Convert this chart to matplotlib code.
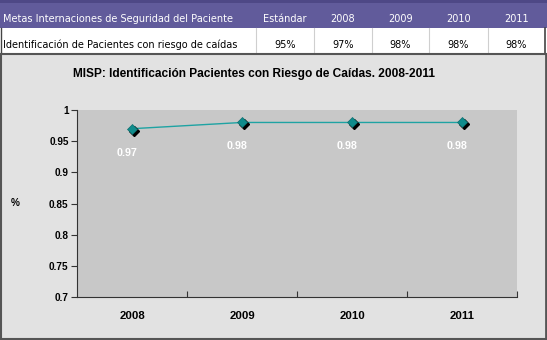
import matplotlib
matplotlib.use("Agg")
import matplotlib.pyplot as plt
from matplotlib.patches import Rectangle
from matplotlib.lines import Line2D
import matplotlib.transforms as mtransforms

# ---- data ----
table_header = ["Metas Internaciones de Seguridad del Paciente", "Estándar", "2008", "2009", "2010", "2011"]
row_label = "Identificación de Pacientes con riesgo de caídas"
row_values = ["95%", "97%", "98%", "98%", "98%"]

years = ["2008", "2009", "2010", "2011"]
values = [0.97, 0.98, 0.98, 0.98]
yticks = [0.7, 0.75, 0.8, 0.85, 0.9, 0.95, 1.0]
ytick_labels = ["0.7", "0.75", "0.8", "0.85", "0.9", "0.95", "1"]
title = "MISP: Identificación Pacientes con Riesgo de Caídas. 2008-2011"

W, H = 547, 340
fig = plt.figure(figsize=(W / 100, H / 100), dpi=100)
fig.patch.set_facecolor("white")

def fx(x):
    return x / W

def fy(y):
    return 1 - y / H

def rect(x0, y0, x1, y1, **kw):
    fig.patches.append(Rectangle((fx(x0), fy(y1)), fx(x1) - fx(x0), fy(y0) - fy(y1),
                                 transform=fig.transFigure, figure=fig, zorder=-2, **kw))

def hline(x0, x1, y, **kw):
    fig.lines.append(Line2D([fx(x0), fx(x1)], [fy(y), fy(y)], transform=fig.transFigure,
                            figure=fig, zorder=-1, **kw))

def vline(x, y0, y1, **kw):
    fig.lines.append(Line2D([fx(x), fx(x)], [fy(y0), fy(y1)], transform=fig.transFigure,
                            figure=fig, zorder=-1, **kw))

# ---- table ----
purple = "#615b9b"
rect(0, 0, 547, 28, facecolor=purple, edgecolor="none")
rect(0, 0, 547, 3, facecolor="#4e4886", edgecolor="none")
rect(0, 28, 547, 53, facecolor="white", edgecolor="none")
col_edges = [0, 256, 314, 372, 429, 488, 545]
for x in col_edges[1:-1]:
    vline(x, 28, 53, color="#cfcfcf", lw=0.8)
vline(545, 28, 53, color="#444444", lw=1.2)
vline(1, 28, 53, color="#444444", lw=1.0)

tfont = dict(family="DejaVu Sans", fontsize=7.0)
fig.text(fx(3), fy(19), table_header[0], color="white", ha="left", va="center", **tfont)
for i, lab in enumerate(table_header[1:]):
    cx = (col_edges[i + 1] + col_edges[i + 2]) / 2
    fig.text(fx(cx), fy(19), lab, color="white", ha="center", va="center", **tfont)
fig.text(fx(3), fy(45), row_label, color="black", ha="left", va="center", **tfont)
for i, lab in enumerate(row_values):
    cx = (col_edges[i + 1] + col_edges[i + 2]) / 2
    fig.text(fx(cx), fy(45), lab, color="black", ha="center", va="center", **tfont)

# ---- chart panel ----
rect(0, 53, 547, 340, facecolor="#e2e2e2", edgecolor="none")
hline(0, 547, 54, color="#555555", lw=1.5)
vline(1, 54, 340, color="#555555", lw=1.5)
vline(545.5, 54, 340, color="#555555", lw=2)
hline(0, 547, 339, color="#555555", lw=1.5)

fig.text(fx(254), fy(74), title, ha="center", va="center", fontsize=8.6,
         fontweight="bold", family="Liberation Sans", color="black")
fig.text(fx(15), fy(203), "%", ha="center", va="center", fontsize=7.2,
         fontweight="bold", family="Liberation Sans", color="black")

ax = fig.add_axes([fx(77), fy(297), fx(517) - fx(77), fy(110) - fy(297)])
ax.set_facecolor("#c8c8c8")
x = list(range(len(years)))
ax.plot(x, values, color="#1ea3a3", lw=1.0, zorder=2)
shadow = mtransforms.offset_copy(ax.transData, fig=fig, x=2, y=-2, units="dots")
ax.plot(x, values, ls="none", marker="D", ms=5.2, color="black", transform=shadow, zorder=3)
ax.plot(x, values, ls="none", marker="D", ms=5.2, color="#108c8c", mec="#0d7070", mew=0.5, zorder=4)
for xi, v in zip(x, values):
    ax.annotate(f"{v:.2f}", (xi, v), xytext=(-5, -24), textcoords="offset pixels",
                ha="center", va="center", color="white", fontsize=7.7, fontweight="bold",
                family="Liberation Sans")

ax.set_xlim(-0.5, len(years) - 0.5)
ax.set_ylim(0.7, 1.0)
ax.set_yticks(yticks)
ax.set_yticklabels(ytick_labels)
ax.set_xticks([i + 0.5 for i in range(len(years))])
ax.set_xticklabels([])
ax.set_xticks(x, minor=True)
ax.set_xticklabels(years, minor=True)
ax.tick_params(axis="x", which="minor", length=0, pad=10)
ax.tick_params(axis="x", which="major", length=4, direction="in", width=0.8, color="#333333")
ax.tick_params(axis="y", length=4, width=0.8, color="#333333", pad=2)
for lab in ax.get_yticklabels():
    lab.set_fontweight("bold"); lab.set_fontsize(7.2); lab.set_family("Liberation Sans")
for lab in ax.get_xticklabels(minor=True):
    lab.set_fontweight("bold"); lab.set_fontsize(8.2); lab.set_family("Liberation Sans")
for s in ["top", "right"]:
    ax.spines[s].set_visible(False)
ax.spines["left"].set_color("#333333")
ax.spines["bottom"].set_color("#333333")
ax.spines["left"].set_linewidth(0.8)
ax.spines["bottom"].set_linewidth(0.8)

fig.savefig("out.png", dpi=100)
